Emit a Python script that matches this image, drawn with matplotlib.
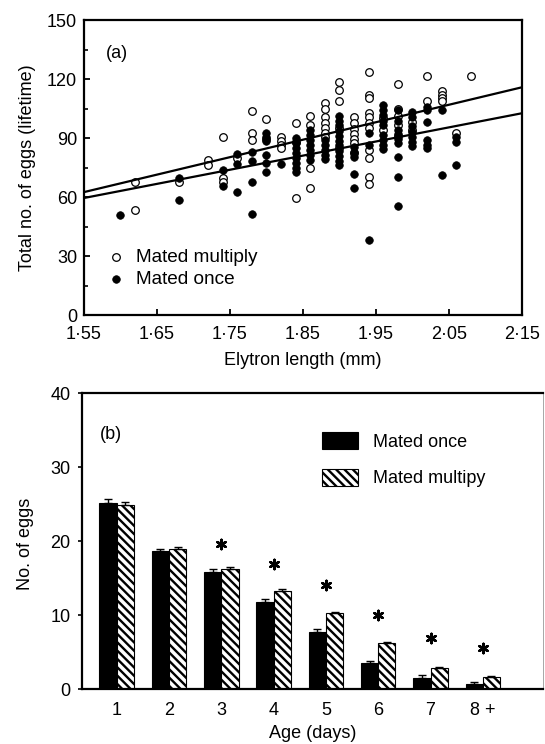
import numpy as np
import matplotlib
matplotlib.use('Agg')
import matplotlib.pyplot as plt
from matplotlib.ticker import MultipleLocator

plt.rcParams['font.family'] = ['Liberation Sans', 'DejaVu Sans']
plt.rcParams['hatch.linewidth'] = 1.7

# (a) elytron length columns and lifetime eggs per female
lengths = [1.60, 1.62, 1.68, 1.72, 1.74, 1.76, 1.78, 1.80, 1.82, 1.84, 1.86,
           1.88, 1.90, 1.92, 1.94, 1.96, 1.98, 2.00, 2.02, 2.04, 2.06, 2.08]
multiply_eggs = [
    [], [67.5, 53.5], [67.5], [79.0, 76.3], [90.6, 69.5, 67.8], [79.7],
    [103.7, 92.7, 88.8], [99.6, 89.5], [90.7, 88.5, 86.5, 84.8],
    [97.6, 88.0, 59.5], [101.3, 96.5, 74.6, 64.5],
    [107.8, 104.5, 100.5, 97.5, 95.0, 92.5, 90.5],
    [118.6, 114.4, 108.7, 95.0, 85.0],
    [100.8, 97.4, 94.5, 92.0, 89.5, 87.5, 82.5],
    [123.7, 111.9, 110.2, 102.6, 100.5, 97.5, 95.0, 83.9, 79.6, 70.3, 66.6],
    [100.0, 94.0], [117.4, 105.0, 101.0, 96.5, 91.0], [98.0, 94.0],
    [121.4, 108.8], [114.0, 112.0, 110.3, 108.8], [92.5], [121.4],
]
once_eggs = [
    [50.8], [], [69.5, 58.5], [], [73.7, 65.8], [82.0, 76.8, 62.5],
    [82.7, 78.5, 67.5, 51.6], [92.5, 90.5, 88.3, 81.5, 77.3, 72.6], [76.8],
    [90.0, 87.4, 85.0, 82.5, 80.0, 77.5, 75.0, 72.5],
    [94.0, 91.5, 89.0, 86.5, 84.0, 81.5, 79.0],
    [89.0, 86.5, 84.0, 81.5, 79.5],
    [101.2, 98.5, 96.5, 93.5, 91.0, 88.5, 86.5, 83.5, 81.0, 78.5, 76.3],
    [85.5, 83.0, 80.5, 71.5, 64.4], [92.4, 86.4, 38.3],
    [106.8, 104.3, 101.7, 98.5, 96.6, 91.5, 89.0, 86.4, 84.5],
    [104.3, 98.5, 94.0, 92.0, 89.5, 87.7, 80.5, 70.3, 55.4],
    [103.4, 100.5, 96.0, 93.0, 90.5, 88.0, 86.0],
    [105.9, 104.3, 98.3, 89.2, 86.4, 84.7], [104.3, 71.2],
    [90.7, 88.1, 76.3], [],
]
# fitted lines, read at the axis ends
fit_x = [1.55, 2.15]
fit_multiply = [62.5, 115.8]
fit_once = [59.5, 102.6]
length_ticks = [1.55, 1.65, 1.75, 1.85, 1.95, 2.05, 2.15]
length_labels = ['1·55', '1·65', '1·75', '1·85', '1·95', '2·05', '2·15']

# (b) eggs per day of age
ages = ['1', '2', '3', '4', '5', '6', '7', '8 +']
once_mean = [25.2, 18.7, 15.9, 11.8, 7.7, 3.5, 1.5, 0.7]
once_se = [0.5, 0.3, 0.4, 0.4, 0.4, 0.35, 0.4, 0.3]
multiply_mean = [24.9, 18.9, 16.2, 13.3, 10.3, 6.2, 2.9, 1.6]
multiply_se = [0.35, 0.3, 0.3, 0.2, 0.2, 0.25, 0.15, 0.25]
signif_age = [3, 4, 5, 6, 7, 8]
signif_y = [19.7, 17.0, 14.1, 10.0, 6.9, 5.6]

fig = plt.figure(figsize=(5.45, 7.44), dpi=100)

# ---- panel (a)
ax = fig.add_axes([0.1541, 0.5766, 0.8037, 0.3965])
mx, my, ox, oy = [], [], [], []
for x, m, o in zip(lengths, multiply_eggs, once_eggs):
    mx += [x] * len(m)
    my += m
    ox += [x] * len(o)
    oy += o
h_mult = ax.scatter(mx, my, s=30, facecolor='white', edgecolor='black',
                    linewidth=0.9, zorder=3, label='Mated multiply')
h_once = ax.scatter(ox, oy, s=30, facecolor='black', edgecolor='black',
                    linewidth=0.5, zorder=4, label='Mated once')
ax.plot(fit_x, fit_multiply, color='black', lw=1.6, zorder=5)
ax.plot(fit_x, fit_once, color='black', lw=1.6, zorder=5)
ax.set_xlim(1.55, 2.15)
ax.set_ylim(0, 150)
ax.set_xticks(length_ticks)
ax.set_xticklabels(length_labels)
ax.yaxis.set_major_locator(MultipleLocator(30))
ax.yaxis.set_minor_locator(MultipleLocator(15))
ax.tick_params(axis='both', which='both', direction='in', labelsize=13)
ax.tick_params(axis='both', which='major', length=4, width=1.3)
ax.tick_params(axis='y', which='minor', length=3, width=1.2)
ax.tick_params(axis='x', pad=8)
ax.tick_params(axis='y', pad=5)
for s in ax.spines.values():
    s.set_linewidth(1.6)
ax.set_xlabel('Elytron length (mm)', fontsize=13)
ax.set_ylabel('Total no. of eggs (lifetime)', fontsize=13)
ax.xaxis.set_label_coords(0.5, -0.125)
ax.yaxis.set_label_coords(-0.11, 0.5)
ax.text(0.05, 0.87, '(a)', transform=ax.transAxes, fontsize=13)
ax.legend(handles=[h_mult, h_once], loc='upper left',
          bbox_to_anchor=(0.052, 0.225), frameon=False, fontsize=13.7,
          handlelength=1.0, handletextpad=0.55, labelspacing=0.25,
          borderpad=0, borderaxespad=0, markerscale=1.0)

# ---- panel (b)
bx = fig.add_axes([0.1499, 0.0735, 0.8464, 0.3978])
pos = np.arange(1, len(ages) + 1)
w = 0.33
bx.bar(pos - w, once_mean, width=w, align='edge', color='black',
       edgecolor='black', linewidth=0.8, label='Mated once', zorder=2)
bx.bar(pos, multiply_mean, width=w, align='edge', color='white',
       edgecolor='black', hatch='\\\\\\\\', linewidth=0.8,
       label='Mated multipy', zorder=2)
bx.errorbar(pos - w / 2, once_mean, yerr=[np.zeros(len(ages)), once_se],
            fmt='none', ecolor='black', elinewidth=1.0, capsize=3, zorder=3)
bx.errorbar(pos + w / 2, multiply_mean,
            yerr=[np.zeros(len(ages)), multiply_se],
            fmt='none', ecolor='black', elinewidth=1.0, capsize=3, zorder=3)
bx.scatter(signif_age, signif_y, marker=(6, 2, 0), s=45, color='black',
           linewidth=1.8, zorder=3)
bx.set_xlim(0.33, 9.15)
bx.set_ylim(0, 40)
bx.set_xticks(pos)
bx.set_xticklabels(ages)
bx.set_yticks([0, 10, 20, 30, 40])
bx.tick_params(axis='x', length=0, pad=9, labelsize=13)
bx.tick_params(axis='y', direction='out', length=3, width=1.2, pad=5,
               labelsize=13)
for name in ['left', 'bottom', 'top']:
    bx.spines[name].set_linewidth(1.6)
bx.spines['right'].set_linewidth(0.6)
bx.spines['right'].set_color('#999999')
bx.set_xlabel('Age (days)', fontsize=13)
bx.set_ylabel('No. of eggs', fontsize=13)
bx.xaxis.set_label_coords(0.5, -0.12)
bx.yaxis.set_label_coords(-0.103, 0.49)
bx.text(0.04, 0.845, '(b)', transform=bx.transAxes, fontsize=13)
bx.legend(loc='upper left', bbox_to_anchor=(0.521, 0.87), frameon=False,
          fontsize=13, handlelength=2.0, handleheight=1.1,
          handletextpad=0.8, labelspacing=1.0, borderpad=0, borderaxespad=0)

fig.savefig('out.png', dpi=100)
